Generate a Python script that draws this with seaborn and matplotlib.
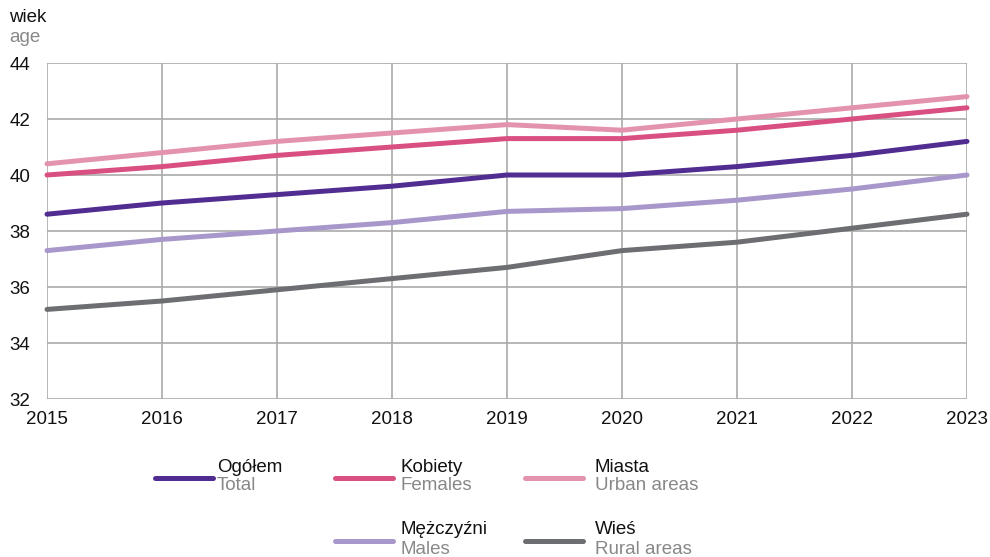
import matplotlib
matplotlib.use("Agg")
import matplotlib.pyplot as plt
from matplotlib.lines import Line2D
import seaborn as sns
import pandas as pd

years = [2015, 2016, 2017, 2018, 2019, 2020, 2021, 2022, 2023]
total = [38.6, 39.0, 39.3, 39.6, 40.0, 40.0, 40.3, 40.7, 41.2]
females = [40.0, 40.3, 40.7, 41.0, 41.3, 41.3, 41.6, 42.0, 42.4]
urban = [40.4, 40.8, 41.2, 41.5, 41.8, 41.6, 42.0, 42.4, 42.8]
males = [37.3, 37.7, 38.0, 38.3, 38.7, 38.8, 39.1, 39.5, 40.0]
rural = [35.2, 35.5, 35.9, 36.3, 36.7, 37.3, 37.6, 38.1, 38.6]

series_pl = ["Ogółem", "Kobiety", "Miasta", "Mężczyźni", "Wieś"]
series_en = ["Total", "Females", "Urban areas", "Males", "Rural areas"]
series_vals = [total, females, urban, males, rural]
colors = ["#512D91", "#D94F82", "#E493AE", "#A897CA", "#6D6E71"]
yticks = [32, 34, 36, 38, 40, 42, 44]

rows = []
for name, vals in zip(series_pl, series_vals):
    for y, v in zip(years, vals):
        rows.append({"year": y, "value": v, "series": name})
df = pd.DataFrame(rows)

sns.set_style("white")
plt.rcParams["font.family"] = ["Liberation Sans", "DejaVu Sans"]
FS = 13.5

fig = plt.figure(figsize=(9.9, 5.57), dpi=100)
ax = fig.add_axes([47/990, 1 - 399/557, 920/990, 336/557])

sns.lineplot(data=df, x="year", y="value", hue="series", hue_order=series_pl,
             palette=colors, linewidth=3.6, ax=ax, legend=False)

ax.set_xlim(2015, 2023)
ax.set_ylim(32, 44)
ax.set_xticks(years)
ax.set_yticks(yticks)
ax.set_xticklabels([str(y) for y in years], fontsize=FS)
ax.set_yticklabels([str(t) for t in yticks], fontsize=FS)
ax.set_xlabel("")
ax.set_ylabel("")
ax.grid(True, color="#AAAAAA", linewidth=1.2)
ax.set_axisbelow(True)
for s in ax.spines.values():
    s.set_visible(False)
ax.tick_params(axis="both", length=0, colors="#111111")
ax.tick_params(axis="x", pad=9)
ax.tick_params(axis="y", pad=12)
for line in ax.get_lines():
    line.set_clip_on(False)
    line.set_solid_capstyle("round")

fig.text(9/990, 1 - 18/557, "wiek", fontsize=FS, color="#111111", va="center")
fig.text(9/990, 1 - 38/557, "age", fontsize=FS, color="#888888", va="center")

# custom legend
line_x = [155, 335, 525, 335, 525]
text_x = [217, 401, 595, 401, 595]
line_y = [478, 478, 478, 541, 541]
for lx, tx, y, pl, en, c in zip(line_x, text_x, line_y, series_pl, series_en, colors):
    fig.add_artist(Line2D([lx/990, (lx+58)/990], [1 - y/557, 1 - y/557],
                          color=c, linewidth=3.6, solid_capstyle="round"))
    fig.text(tx/990, 1 - (y-11)/557, pl, fontsize=FS, color="#111111", va="center")
    fig.text(tx/990, 1 - (y+8)/557, en, fontsize=FS, color="#888888", va="center")

fig.savefig("out.png", dpi=100)
